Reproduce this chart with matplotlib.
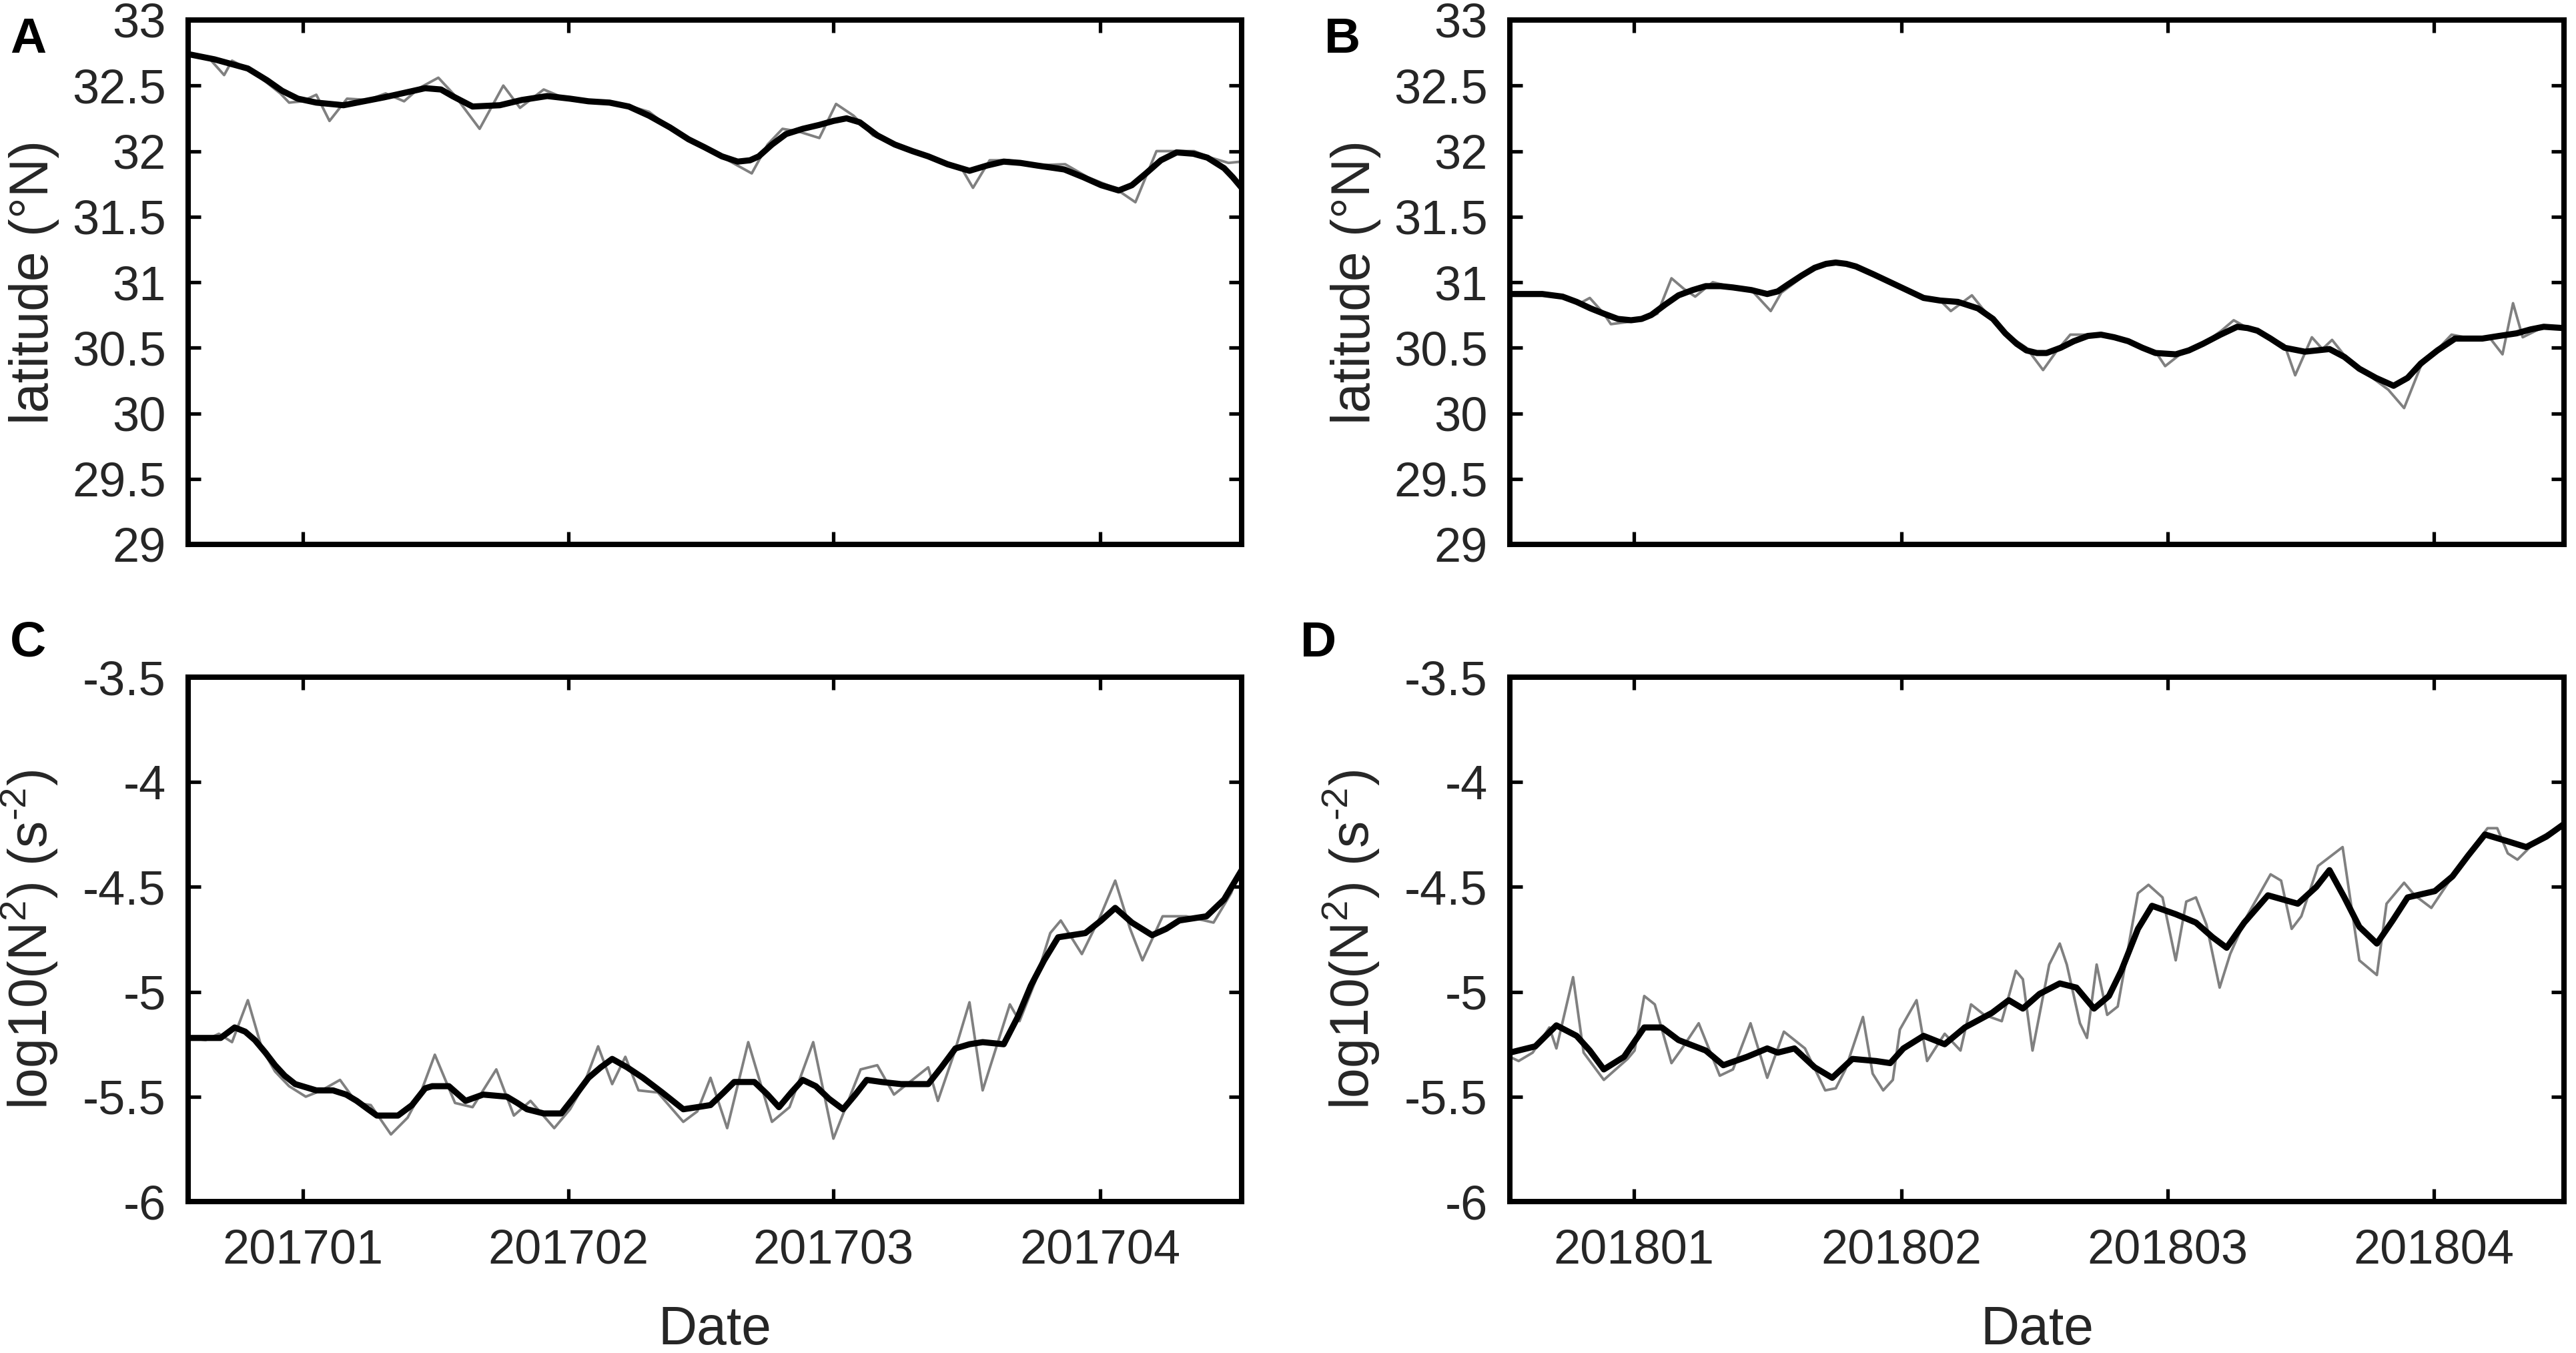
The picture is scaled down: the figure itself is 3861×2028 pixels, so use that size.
import matplotlib
matplotlib.use("Agg")
import matplotlib.pyplot as plt

plt.rcParams['font.family'] = ['Liberation Sans', 'DejaVu Sans']
plt.rcParams['mathtext.fontset'] = 'custom'
plt.rcParams['mathtext.rm'] = 'Liberation Sans'
plt.rcParams['mathtext.it'] = 'Liberation Sans:italic'
plt.rcParams['axes.unicode_minus'] = False

# ---- data (days from left edge of each panel) ----
# A: latitude 2017 (raw = grey, smooth = black)
lat17_raw_day = [0, 2.5, 4.1, 5.0, 7.0, 9.0, 10.5, 11.5, 13.0, 14.6, 16.1, 18.1, 20.5, 22.5, 24.6,
                 26.3, 28.5, 30.3, 33.2, 35.9, 37.8, 40.5, 43.0, 46.0, 50.0, 52.5, 55.0, 57.5, 59.5,
                 61.5, 64.2, 66.0, 67.7, 69.5, 71.9, 73.8, 75.8, 78.0, 80.5, 83.0, 86.0, 88.0, 89.4,
                 91.3, 93.5, 96.0, 99.9, 102.5, 105.5, 107.9, 110.3, 112.5, 114.6, 116.5, 118.5, 120]
lat17_raw = [32.74, 32.70, 32.58, 32.69, 32.62, 32.52, 32.44, 32.37, 32.38, 32.43, 32.23, 32.40, 32.39,
             32.44, 32.38, 32.48, 32.56, 32.43, 32.17, 32.50, 32.33, 32.47, 32.40, 32.38, 32.35, 32.30,
             32.17, 32.06, 32.01, 31.93, 31.83, 32.05, 32.17, 32.15, 32.10, 32.36, 32.27, 32.12, 32.05,
             31.99, 31.92, 31.88, 31.72, 31.93, 31.93, 31.89, 31.90, 31.80, 31.72, 31.61, 32.00, 32.00,
             32.00, 31.95, 31.91, 31.92]
lat17_sm_day = [0, 3, 6.8, 9, 10.7, 12.5, 14.6, 17.7, 20, 22.3, 25, 27.0, 28.8, 30.1, 32.4, 35.5, 38,
                40.9, 43.5, 45.6, 48, 50.2, 52.5, 54.9, 57, 58.8, 60.8, 62.6, 64, 65.0, 66.5, 68.1, 70,
                71.9, 73.5, 75.0, 76.5, 78.5, 80.5, 82.5, 84.3, 86.5, 89.0, 91, 92.9, 94.8, 96.7, 99.8,
                102, 104, 106.0, 107.5, 109.1, 110.8, 112.6, 114.5, 116.1, 118, 119, 120]
lat17_sm = [32.74, 32.70, 32.63, 32.54, 32.46, 32.40, 32.37, 32.35, 32.38, 32.41, 32.45, 32.48, 32.47,
            32.42, 32.34, 32.35, 32.39, 32.42, 32.40, 32.38, 32.37, 32.34, 32.27, 32.18, 32.09, 32.03,
            31.96, 31.92, 31.93, 31.96, 32.05, 32.13, 32.17, 32.20, 32.23, 32.25, 32.22, 32.12, 32.05,
            32.00, 31.96, 31.90, 31.85, 31.89, 31.92, 31.91, 31.89, 31.86, 31.80, 31.74, 31.70, 31.74,
            31.83, 31.93, 31.99, 31.98, 31.95, 31.87, 31.80, 31.72]

# B: latitude 2018
lat18_raw_day = [0, 3.7, 6.5, 8.0, 9.1, 10.7, 11.5, 13.8, 15.5, 16.8, 18.4, 19.8, 21.1, 23.1, 25.4,
                 27.5, 29.7, 30.9, 32.5, 34.7, 37.1, 39.4, 41.5, 43.3, 45.5, 47.1, 49.0, 50.2, 52.6,
                 53.8, 56.4, 58.8, 60.7, 62.3, 63.8, 66, 67.3, 69.5, 71.5, 73.5, 74.6, 76.5, 78.9,
                 81.0, 82.4, 84.0, 86.0, 88.2, 89.4, 91.3, 92.5, 93.6, 95.5, 98.0, 100.0, 101.8,
                 103.7, 105.5, 107.2, 109.5, 111.5, 113.0, 114.2, 115.3, 117.7, 120]
lat18_raw = [30.91, 30.92, 30.89, 30.84, 30.88, 30.76, 30.68, 30.70, 30.72, 30.76, 31.03, 30.95, 30.89,
             31.00, 30.96, 30.94, 30.78, 30.92, 31.00, 31.11, 31.16, 31.12, 31.05, 31.00, 30.93, 30.88,
             30.86, 30.78, 30.90, 30.80, 30.61, 30.50, 30.33, 30.48, 30.60, 30.60, 30.61, 30.57, 30.52,
             30.47, 30.36, 30.46, 30.53, 30.63, 30.71, 30.65, 30.60, 30.52, 30.29, 30.58, 30.49, 30.56,
             30.40, 30.28, 30.18, 30.04, 30.36, 30.48, 30.60, 30.57, 30.58, 30.45, 30.84, 30.58, 30.66,
             30.65]
lat18_sm_day = [0, 3.7, 6, 7.6, 9.2, 10.7, 12.3, 13.8, 15.0, 16.1, 17.7, 19.2, 20.8, 22.3, 24, 25.4,
                27.5, 29.3, 30.5, 31.6, 33.2, 34.7, 36, 37.1, 38.3, 39.4, 41.4, 43.3, 45.2, 47.1, 49,
                51.0, 53.3, 55, 56.4, 57.7, 58.8, 60, 61.1, 62.7, 64.2, 65.8, 67.3, 68.8, 70.4, 72,
                73.5, 75.8, 77.3, 78.9, 80.9, 82.8, 84, 85.1, 86.6, 88.2, 90.5, 93.3, 95, 96.7, 98.6,
                100.6, 102.2, 103.7, 105.6, 107.6, 110.7, 112.6, 114.6, 116.2, 117.7, 120]
lat18_sm = [30.91, 30.91, 30.89, 30.85, 30.80, 30.76, 30.72, 30.71, 30.72, 30.75, 30.83, 30.90, 30.94,
            30.97, 30.97, 30.96, 30.94, 30.91, 30.93, 30.98, 31.05, 31.11, 31.14, 31.15, 31.14, 31.12,
            31.06, 31.00, 30.94, 30.88, 30.86, 30.85, 30.80, 30.72, 30.61, 30.53, 30.48, 30.46, 30.46,
            30.50, 30.55, 30.59, 30.60, 30.58, 30.55, 30.50, 30.46, 30.45, 30.48, 30.53, 30.60, 30.66,
            30.65, 30.63, 30.57, 30.50, 30.47, 30.49, 30.43, 30.34, 30.27, 30.21, 30.27, 30.38, 30.48,
            30.57, 30.57, 30.59, 30.61, 30.64, 30.66, 30.65]

# C: log10(N^2) 2017
n17_raw_day = [0, 2.0, 3.5, 5.0, 6.8, 8.4, 9.9, 11.5, 13.4, 15.2, 17.3, 19.2, 20.8, 23.1, 25, 26.5,
               28.1, 30.4, 32.4, 35.1, 37.1, 39.0, 41.7, 43.5, 45.0, 46.7, 48.3, 49.8, 51.3, 53.5,
               56.4, 58.0, 59.5, 61.4, 63.8, 66.5, 68.5, 71.2, 73.5, 76.6, 78.5, 80.4, 82.5, 84.3,
               85.4, 87.2, 89.0, 90.5, 93.6, 94.7, 96.5, 98.2, 99.4, 101.8, 103.8, 105.6, 107.3,
               108.7, 111.0, 113.7, 116.8, 118.8, 120]
n17_raw = [-5.22, -5.23, -5.20, -5.24, -5.04, -5.27, -5.38, -5.45, -5.50, -5.47, -5.42, -5.53, -5.54,
           -5.68, -5.60, -5.48, -5.30, -5.53, -5.55, -5.37, -5.59, -5.52, -5.65, -5.56, -5.45, -5.26,
           -5.44, -5.31, -5.47, -5.48, -5.62, -5.57, -5.41, -5.65, -5.24, -5.62, -5.55, -5.24, -5.70,
           -5.37, -5.35, -5.49, -5.42, -5.36, -5.52, -5.30, -5.05, -5.47, -5.06, -5.14, -4.95, -4.72,
           -4.66, -4.82, -4.65, -4.47, -4.70, -4.85, -4.64, -4.64, -4.67, -4.53, -4.40]
n17_sm_day = [0, 3.7, 5.3, 6.5, 7.6, 8.8, 9.9, 11, 12.2, 14.6, 16.5, 18, 19.2, 20.5, 21.5, 23.9, 25.5,
              27.0, 27.8, 29.7, 31.6, 33.6, 36.3, 37.5, 38.6, 40.5, 42.5, 44.0, 45.6, 47, 48.3, 50,
              51.8, 54, 56.4, 58, 59.5, 61, 62.2, 64.5, 66, 67.3, 68.7, 70.0, 71.5, 73, 74.6, 76,
              77.3, 79, 81.2, 84.3, 85.8, 87.4, 89, 90.5, 92.9, 94.5, 96.0, 97.5, 99.1, 102.2, 104,
              105.6, 107.5, 109.8, 111.4, 112.9, 116.0, 118, 120]
n17_sm = [-5.22, -5.22, -5.17, -5.19, -5.23, -5.29, -5.35, -5.40, -5.44, -5.47, -5.47, -5.49, -5.52,
          -5.56, -5.59, -5.59, -5.54, -5.46, -5.45, -5.45, -5.52, -5.49, -5.50, -5.53, -5.56, -5.58,
          -5.58, -5.50, -5.41, -5.36, -5.32, -5.36, -5.41, -5.48, -5.56, -5.55, -5.54, -5.48, -5.43,
          -5.43, -5.49, -5.55, -5.48, -5.42, -5.45, -5.51, -5.56, -5.49, -5.42, -5.43, -5.44, -5.44,
          -5.36, -5.27, -5.25, -5.24, -5.25, -5.12, -4.97, -4.85, -4.74, -4.72, -4.66, -4.60, -4.67,
          -4.73, -4.70, -4.66, -4.64, -4.56, -4.42]

# D: log10(N^2) 2018
n18_raw_day = [0, 1.0, 2.6, 4.5, 5.3, 7.2, 8.4, 10.7, 13.4, 14.2, 15.3, 16.5, 18.4, 19.6, 21.5, 23.9,
               25.4, 27.4, 29.3, 31.2, 33.6, 35.9, 37.1, 38.2, 40.2, 41.3, 42.5, 43.6, 44.4, 46.3,
               47.5, 49.5, 51.3, 52.5, 54.0, 56.0, 57.6, 58.4, 59.5, 61.4, 62.6, 63.4, 64.9, 65.7,
               66.8, 68.0, 69.2, 71.5, 72.7, 74.3, 75.8, 77.0, 78.1, 79.3, 80.8, 82.0, 83.9, 86.6,
               87.8, 89.0, 90.1, 92.0, 94.8, 96.7, 98.7, 99.8, 101.8, 103.0, 104.9, 106.5, 109.1,
               111.3, 112.4, 113.6, 114.7, 117.1, 120]
n18_raw = [-5.31, -5.33, -5.29, -5.17, -5.27, -4.93, -5.29, -5.42, -5.32, -5.28, -5.02, -5.06, -5.34,
           -5.27, -5.15, -5.40, -5.37, -5.15, -5.41, -5.19, -5.27, -5.47, -5.46, -5.37, -5.12, -5.39,
           -5.47, -5.42, -5.18, -5.04, -5.33, -5.20, -5.28, -5.06, -5.11, -5.14, -4.90, -4.94, -5.28,
           -4.87, -4.77, -4.87, -5.15, -5.22, -4.87, -5.11, -5.07, -4.53, -4.49, -4.55, -4.85, -4.57,
           -4.55, -4.68, -4.98, -4.82, -4.64, -4.44, -4.47, -4.70, -4.64, -4.40, -4.31, -4.85, -4.92,
           -4.58, -4.48, -4.54, -4.60, -4.50, -4.34, -4.22, -4.22, -4.34, -4.37, -4.27, -4.20]
n18_sm_day = [0, 2.9, 5.3, 7.6, 9.1, 10.7, 13.0, 15.3, 17.3, 19.2, 22.3, 24.3, 27.0, 29.3, 30.5, 32.4,
              34.7, 36.7, 39.0, 41.7, 43.3, 44.8, 47.1, 49.5, 51.8, 54.9, 56.8, 58.4, 60.3, 62.6,
              64.5, 66.5, 68.2, 69.6, 71.5, 73.1, 75.8, 78.1, 80.0, 81.6, 83.6, 86.3, 89.7, 91.8,
              93.3, 95.0, 96.7, 98.7, 100.5, 102.2, 105.3, 107.3, 109.1, 111.0, 113.4, 115.7,
              118.0, 120]
n18_sm = [-5.29, -5.26, -5.16, -5.21, -5.28, -5.37, -5.31, -5.17, -5.17, -5.23, -5.28, -5.35, -5.31,
          -5.27, -5.29, -5.27, -5.36, -5.41, -5.32, -5.33, -5.34, -5.27, -5.21, -5.25, -5.17, -5.10,
          -5.04, -5.08, -5.01, -4.96, -4.98, -5.08, -5.02, -4.90, -4.70, -4.59, -4.63, -4.67, -4.74,
          -4.79, -4.67, -4.54, -4.58, -4.50, -4.42, -4.55, -4.69, -4.77, -4.66, -4.55, -4.52, -4.45,
          -4.35, -4.25, -4.28, -4.31, -4.26, -4.20]

tick_days_17 = [13.1, 43.3, 73.5, 103.9]
tick_days_18 = [14.1, 44.6, 74.9, 105.2]
tick_labels_17 = ['201701', '201702', '201703', '201704']
tick_labels_18 = ['201801', '201802', '201803', '201804']
lat_ticks = [29, 29.5, 30, 30.5, 31, 31.5, 32, 32.5, 33]
n2_ticks = [-6, -5.5, -5, -4.5, -4, -3.5]

TXT = '#262626'

fig = plt.figure(figsize=(38.62, 20.28), dpi=100)

W = 3862.0
H = 2028.0


def make_ax(left, top, right, bottom):
    return fig.add_axes([left / W, 1 - bottom / H, (right - left) / W, (bottom - top) / H])


def style(ax, xticks, xlabels, yticks, ylim, show_x):
    ax.set_xlim(0, 120)
    ax.set_ylim(*ylim)
    ax.set_yticks(yticks)
    ax.set_yticklabels([f'{t:g}' for t in yticks])
    ax.set_xticks(xticks)
    if show_x:
        ax.set_xticklabels(xlabels)
        ax.set_xlabel('Date', fontsize=58, color=TXT)
        ax.xaxis.set_label_coords(0.5, -0.197)
    else:
        ax.set_xticklabels([])
    ax.tick_params(direction='in', length=14, width=3.8, top=True, right=True,
                   labelsize=52, colors='black', labelcolor=TXT)
    ax.tick_params(axis='x', pad=29)
    ax.tick_params(axis='y', pad=24)
    for s in ax.spines.values():
        s.set_linewidth(5.8)
        s.set_color('black')


def draw(ax, rd, rv, sd, sv):
    ax.plot(rd, rv, color='#808080', lw=2.8, zorder=2, solid_joinstyle='round')
    ax.plot(sd, sv, color='black', lw=6.6, zorder=3, solid_joinstyle='round',
            solid_capstyle='round')


axA = make_ax(282, 30, 1861, 816)
axB = make_ax(2263, 30, 3843, 816)
axC = make_ax(282, 1015, 1861, 1801)
axD = make_ax(2263, 1015, 3843, 1801)

draw(axA, lat17_raw_day, lat17_raw, lat17_sm_day, lat17_sm)
draw(axB, lat18_raw_day, lat18_raw, lat18_sm_day, lat18_sm)
draw(axC, n17_raw_day, n17_raw, n17_sm_day, n17_sm)
draw(axD, n18_raw_day, n18_raw, n18_sm_day, n18_sm)

style(axA, tick_days_17, tick_labels_17, lat_ticks, (29, 33), False)
style(axB, tick_days_18, tick_labels_18, lat_ticks, (29, 33), False)
style(axC, tick_days_17, tick_labels_17, n2_ticks, (-6, -3.5), True)
style(axD, tick_days_18, tick_labels_18, n2_ticks, (-6, -3.5), True)

for ax in (axA, axB):
    ax.set_ylabel('latitude (°N)', fontsize=58, color=TXT)
    ax.yaxis.set_label_coords(-0.122, 0.5)
for ax in (axC, axD):
    ax.set_ylabel(r'log10(N$^2$) (s$^{\text{-}2}$)', fontsize=58, color=TXT)
    ax.yaxis.set_label_coords(-0.122, 0.5)

# panel letters
for lab, x, y in [('A', 15, 25), ('B', 1985, 25), ('C', 15, 930), ('D', 1949, 930)]:
    fig.text(x / W, 1 - y / H, lab, fontsize=54, fontweight='bold', ha='left', va='top',
             color='black')

fig.savefig('out.png', dpi=100)
